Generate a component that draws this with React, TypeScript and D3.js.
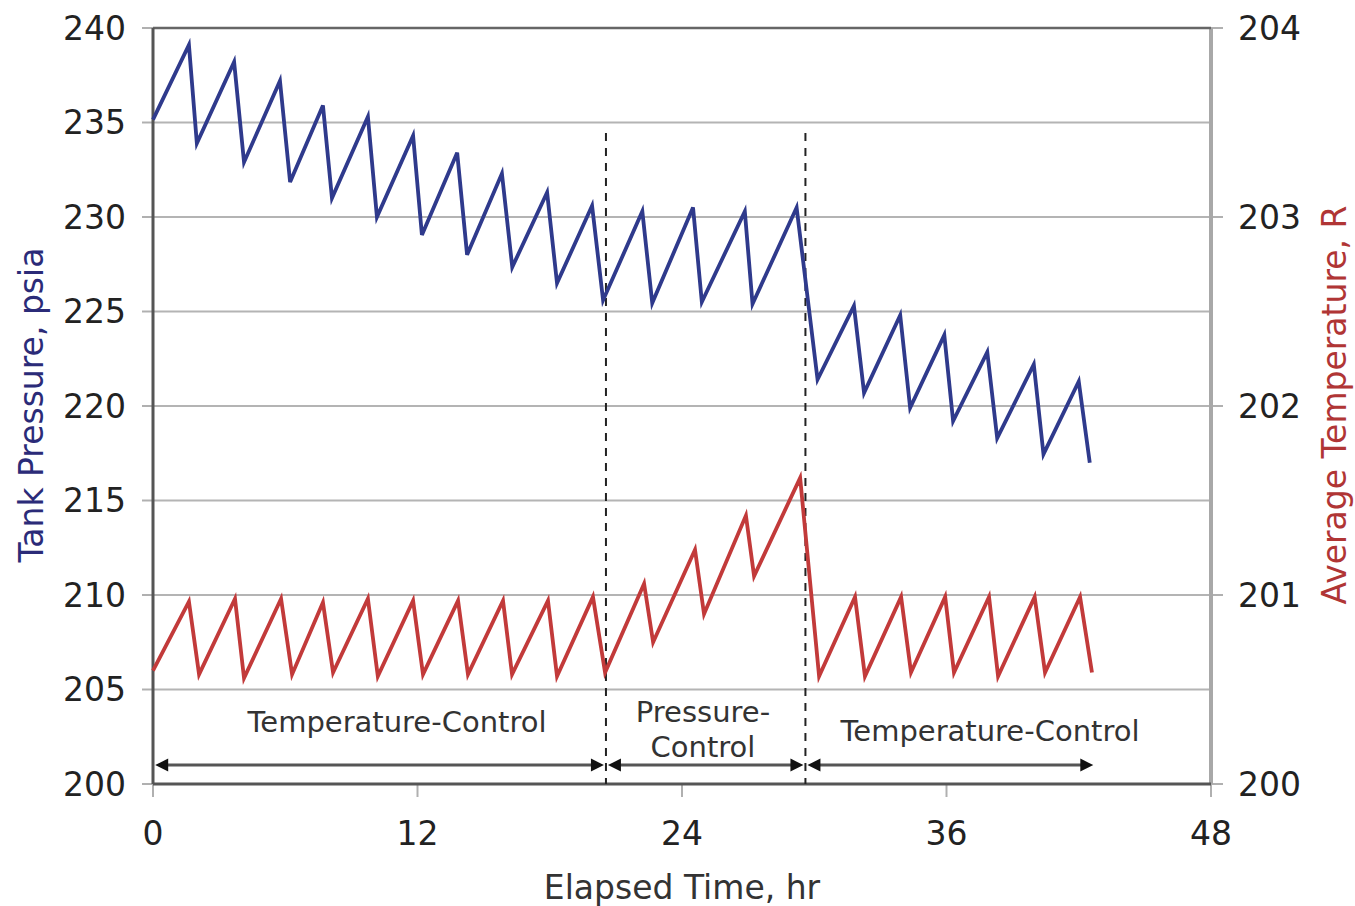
import React from "react";
import * as d3 from "d3";

// ---- Data ----
const pressureTime = [0, 1.63, 1.99, 3.68, 4.13, 5.76, 6.22, 7.71, 8.12, 9.75, 10.16, 11.8, 12.2, 13.8, 14.25, 15.83, 16.3, 17.88, 18.33, 19.92, 20.42, 22.2, 22.65, 24.5, 24.9, 26.85, 27.2, 29.2, 30.15, 31.8, 32.26, 33.9, 34.35, 35.9, 36.3, 37.85, 38.3, 39.96, 40.4, 42.0, 42.5];
const pressure = [235.15, 239.1, 233.9, 238.2, 232.9, 237.2, 231.85, 235.9, 231.0, 235.3, 230.0, 234.3, 229.05, 233.4, 228.0, 232.3, 227.35, 231.3, 226.5, 230.6, 225.6, 230.3, 225.45, 230.5, 225.5, 230.3, 225.4, 230.5, 221.4, 225.3, 220.7, 224.8, 219.9, 223.75, 219.2, 222.85, 218.3, 222.2, 217.45, 221.3, 217.0];

const temperatureTime = [0, 1.63, 2.09, 3.72, 4.13, 5.81, 6.31, 7.71, 8.17, 9.75, 10.2, 11.8, 12.25, 13.84, 14.29, 15.88, 16.29, 17.92, 18.33, 19.96, 20.51, 22.28, 22.69, 24.59, 25.0, 26.9, 27.27, 29.36, 30.22, 31.85, 32.3, 33.94, 34.39, 35.94, 36.34, 37.93, 38.34, 40.0, 40.47, 42.06, 42.6];
const temperature = [200.6, 200.965, 200.58, 200.98, 200.56, 200.98, 200.58, 200.96, 200.59, 200.98, 200.57, 200.97, 200.58, 200.97, 200.58, 200.97, 200.58, 200.97, 200.57, 200.99, 200.59, 201.06, 200.75, 201.24, 200.9, 201.42, 201.1, 201.62, 200.57, 200.99, 200.57, 200.99, 200.59, 200.99, 200.59, 200.99, 200.57, 200.99, 200.59, 200.99, 200.59];

const xTicks = [0, 12, 24, 36, 48];
const pressureTicks = [200, 205, 210, 215, 220, 225, 230, 235, 240];
const temperatureTicks = [200, 201, 202, 203, 204];

// phase boundaries (hr) and annotation
const phaseBoundaries = [20.55, 29.6];
const boundaryTopPressure = 234.45;
const phaseStart = 0.1;
const phaseEnd = 42.75;
const arrowLevel = 201.0; // psia

const FONT = "'DejaVu Sans', Verdana, sans-serif";

export default function App() {
  const W = 1355, H = 906;
  const left = 153, right = 1211, top = 28, bottom = 784;

  const x = d3.scaleLinear().domain([0, 48]).range([left, right]);
  const yP = d3.scaleLinear().domain([200, 240]).range([bottom, top]);
  const yT = d3.scaleLinear().domain([200, 204]).range([bottom, top]);

  const pLine = d3.line<number>().x((_, i) => x(pressureTime[i])).y((d) => yP(d));
  const tLine = d3.line<number>().x((_, i) => x(temperatureTime[i])).y((d) => yT(d));

  const ay = yP(arrowLevel);
  const segs = [
    [phaseStart, phaseBoundaries[0]],
    [phaseBoundaries[0], phaseBoundaries[1]],
    [phaseBoundaries[1], phaseEnd],
  ];
  const gap = 2;
  const ah = 13; // arrow length
  const aw = 6.5; // arrow half height

  const arrowLeft = (px: number) => `M${px},${ay} L${px + ah},${ay - aw} L${px + ah},${ay + aw} Z`;
  const arrowRight = (px: number) => `M${px},${ay} L${px - ah},${ay - aw} L${px - ah},${ay + aw} Z`;

  return (
    <svg
      width={W}
      height={H}
      style={{ position: "absolute", left: 0, top: 0, background: "#fff" }}
      fontFamily={FONT}
    >
      <rect x={0} y={0} width={W} height={H} fill="#fff" />
      {/* gridlines */}
      {pressureTicks.slice(1, -1).map((t) => (
        <line key={"g" + t} x1={left} x2={right} y1={yP(t)} y2={yP(t)} stroke="#b4b4b4" strokeWidth={2} />
      ))}
      {/* left ticks */}
      {pressureTicks.map((t) => (
        <line key={"lt" + t} x1={left - 11} x2={left} y1={yP(t)} y2={yP(t)} stroke="#b0b0b0" strokeWidth={2} />
      ))}
      {/* right ticks */}
      {temperatureTicks.map((t) => (
        <line key={"rt" + t} x1={right} x2={right + 12} y1={yT(t)} y2={yT(t)} stroke="#b0b0b0" strokeWidth={2} />
      ))}
      {/* bottom ticks */}
      {xTicks.map((t) => (
        <line key={"bt" + t} x1={x(t)} x2={x(t)} y1={bottom} y2={bottom + 13} stroke="#b0b0b0" strokeWidth={2} />
      ))}

      {/* frame */}
      <line x1={right} x2={right} y1={top} y2={bottom} stroke="#a8a8a8" strokeWidth={4} />
      <line x1={left} x2={right} y1={top} y2={top} stroke="#666" strokeWidth={2.5} />
      <line x1={left} x2={right} y1={bottom} y2={bottom} stroke="#555" strokeWidth={3} />
      <line x1={left} x2={left} y1={top} y2={bottom} stroke="#555" strokeWidth={3} />

      {/* phase boundaries */}
      {phaseBoundaries.map((b) => (
        <line
          key={"pb" + b}
          x1={x(b)}
          x2={x(b)}
          y1={yP(boundaryTopPressure)}
          y2={bottom}
          stroke="#222"
          strokeWidth={2}
          strokeDasharray="8,7"
        />
      ))}

      {/* series */}
      <path d={pLine(pressure) || ""} fill="none" stroke="#2f3a8c" strokeWidth={3.8} strokeLinejoin="miter" />
      <path d={tLine(temperature) || ""} fill="none" stroke="#c23a3a" strokeWidth={3.8} strokeLinejoin="miter" />

      {/* arrows */}
      {segs.map(([a, b], i) => {
        const x1 = x(a) + (i === 0 ? 0 : gap);
        const x2 = x(b) - gap;
        return (
          <g key={"seg" + i}>
            <line x1={x1 + ah - 2} x2={x2 - ah + 2} y1={ay} y2={ay} stroke="#555" strokeWidth={3} />
            <path d={arrowLeft(x1)} fill="#111" />
            <path d={arrowRight(x2)} fill="#111" />
          </g>
        );
      })}

      {/* phase labels */}
      <text x={397} y={722} fontSize={29} fill="#333" textAnchor="middle" dominantBaseline="central">
        Temperature-Control
      </text>
      <text x={703} y={712} fontSize={29} fill="#333" textAnchor="middle" dominantBaseline="central">
        Pressure-
      </text>
      <text x={703} y={747} fontSize={29} fill="#333" textAnchor="middle" dominantBaseline="central">
        Control
      </text>
      <text x={990} y={731} fontSize={29} fill="#333" textAnchor="middle" dominantBaseline="central">
        Temperature-Control
      </text>

      {/* tick labels */}
      {pressureTicks.map((t) => (
        <text key={"pl" + t} x={126} y={yP(t)} fontSize={33} fill="#222" textAnchor="end" dominantBaseline="central">
          {t}
        </text>
      ))}
      {temperatureTicks.map((t) => (
        <text key={"tl" + t} x={1238} y={yT(t)} fontSize={33} fill="#222" textAnchor="start" dominantBaseline="central">
          {t}
        </text>
      ))}
      {xTicks.map((t) => (
        <text key={"xl" + t} x={x(t)} y={833} fontSize={33} fill="#222" textAnchor="middle" dominantBaseline="central">
          {t}
        </text>
      ))}

      {/* axis titles */}
      <text x={682} y={887} fontSize={33} fill="#333" textAnchor="middle" dominantBaseline="central">
        Elapsed Time, hr
      </text>
      <text
        transform={`translate(31,405) rotate(-90)`}
        fontSize={33}
        fill="#2b2b78"
        textAnchor="middle"
        dominantBaseline="central"
      >
        Tank Pressure, psia
      </text>
      <text
        transform={`translate(1334,405) rotate(-90)`}
        fontSize={33}
        fill="#b03535"
        textAnchor="middle"
        dominantBaseline="central"
      >
        Average Temperature, R
      </text>
    </svg>
  );
}
